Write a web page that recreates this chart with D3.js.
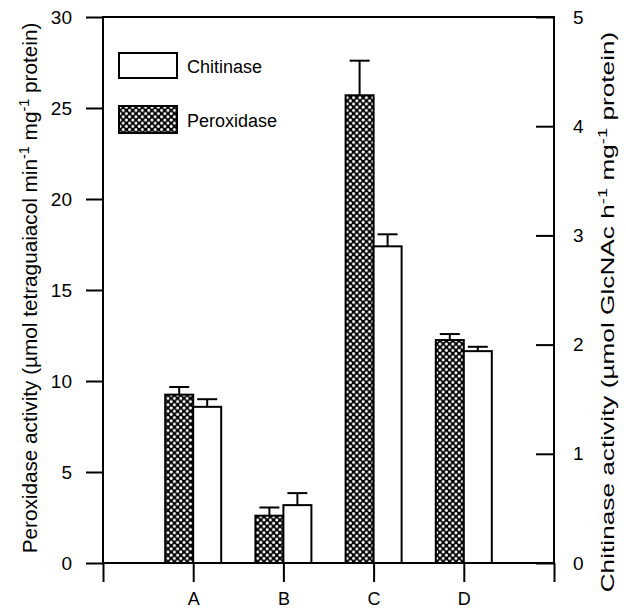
<!DOCTYPE html>
<html>
<head>
<meta charset="utf-8">
<script src="https://cdn.jsdelivr.net/npm/d3@7"></script>
<style>
  body { margin: 0; background: #fff; }
  svg text { font-family: "Liberation Sans", Arial, Helvetica, sans-serif; fill: #000; }
</style>
</head>
<body>
<svg id="chart" width="626" height="611"></svg>
<script>
// datos
var grupos = ["A", "B", "C", "D"];
var peroxidasa = [9.25, 2.6, 25.7, 12.25];      // eje izquierdo
var peroxidasaErr = [0.42, 0.45, 1.9, 0.33];
var quitinasa = [1.43, 0.53, 2.9, 1.94];         // eje derecho
var quitinasaErr = [0.07, 0.11, 0.11, 0.04];
var ticksIzq = [0, 5, 10, 15, 20, 25, 30];
var ticksDer = [0, 1, 2, 3, 4, 5];

var svg = d3.select("#chart");

var x0 = 103, x1 = 554, yTop = 17, yBase = 563;
var anchoBarra = 28;

var x = d3.scaleLinear().domain([0, 5]).range([x0, x1]);
var yIzq = d3.scaleLinear().domain([0, 30]).range([yBase, yTop]);
var yDer = d3.scaleLinear().domain([0, 5]).range([yBase, yTop]);

// patron de puntos blancos sobre negro
var defs = svg.append("defs");
var pat = defs.append("pattern")
  .attr("id", "puntos")
  .attr("patternUnits", "userSpaceOnUse")
  .attr("width", 6.4)
  .attr("height", 6.4);
pat.append("rect").attr("width", 6.4).attr("height", 6.4).attr("fill", "#000");
pat.append("circle").attr("cx", 1.6).attr("cy", 1.6).attr("r", 1.5).attr("fill", "#fff");
pat.append("circle").attr("cx", 4.8).attr("cy", 4.8).attr("r", 1.5).attr("fill", "#fff");

// Barras peroxidasa
svg.append("g").selectAll("rect")
  .data(peroxidasa)
  .enter()
  .append("rect")
  .attr("x", function(d, i) { return x(i + 1) - anchoBarra; })
  .attr("y", function(d) { return yIzq(d); })
  .attr("width", anchoBarra)
  .attr("height", function(d) { return yBase - yIzq(d); })
  .attr("fill", "url(#puntos)")
  .attr("stroke", "#000")
  .attr("stroke-width", 2);

// Barras quitinasa
svg.append("g").selectAll("rect")
  .data(quitinasa)
  .enter()
  .append("rect")
  .attr("x", function(d, i) { return x(i + 1); })
  .attr("y", function(d) { return yDer(d); })
  .attr("width", anchoBarra)
  .attr("height", function(d) { return yBase - yDer(d); })
  .attr("fill", "#fff")
  .attr("stroke", "#000")
  .attr("stroke-width", 2);

// barras de error
function errores(valores, errs, escala, desplaz) {
  var g = svg.append("g").attr("stroke", "#000").attr("stroke-width", 2);
  valores.forEach(function(v, i) {
    var cx = x(i + 1) + desplaz;
    var yv = escala(v), ye = escala(v + errs[i]);
    g.append("line").attr("x1", cx).attr("x2", cx).attr("y1", yv).attr("y2", ye);
    g.append("line").attr("x1", cx - 10).attr("x2", cx + 10).attr("y1", ye).attr("y2", ye);
  });
}
errores(peroxidasa, peroxidasaErr, yIzq, -anchoBarra / 2);
errores(quitinasa, quitinasaErr, yDer, anchoBarra / 2);

// Ejes
var ejeIzq = svg.append("g")
  .attr("transform", "translate(" + x0 + ",0)")
  .call(d3.axisLeft(yIzq).tickValues(ticksIzq).tickSize(17).tickPadding(14));

var ejeDer = svg.append("g")
  .attr("transform", "translate(" + x1 + ",0)")
  .call(d3.axisRight(yDer).tickValues(ticksDer).tickFormat(d3.format("d"))
    .tickSize(-18).tickPadding(19));

var ejeX = svg.append("g")
  .attr("transform", "translate(0," + yBase + ")")
  .call(d3.axisBottom(x).tickValues([0, 1, 2, 3, 4, 5])
    .tickFormat(function(d) { return grupos[d - 1] || ""; })
    .tickSize(19).tickPadding(10));

[ejeIzq, ejeDer, ejeX].forEach(function(e) {
  e.select(".domain").remove();
  e.selectAll("line").attr("stroke", "#000").attr("stroke-width", 2);
  e.selectAll("text").attr("font-size", 19).attr("font-family", "Liberation Sans, Arial, sans-serif");
});
ejeX.selectAll("text").attr("font-size", 18);

// marco
svg.append("rect")
  .attr("x", x0).attr("y", yTop)
  .attr("width", x1 - x0).attr("height", yBase - yTop)
  .attr("fill", "none").attr("stroke", "#000").attr("stroke-width", 2);

// Leyenda
var leyenda = svg.append("g");
leyenda.append("rect").attr("x", 119).attr("y", 53).attr("width", 58).attr("height", 25)
  .attr("fill", "#fff").attr("stroke", "#000").attr("stroke-width", 2);
leyenda.append("rect").attr("x", 119).attr("y", 106).attr("width", 58).attr("height", 27)
  .attr("fill", "url(#puntos)").attr("stroke", "#000").attr("stroke-width", 2);
leyenda.append("text").attr("x", 187).attr("y", 73).attr("font-size", 18).text("Chitinase");
leyenda.append("text").attr("x", 187).attr("y", 127).attr("font-size", 18).text("Peroxidase");

// titulos de ejes con superindices, estirados al largo de la figura
function titulo(px, py, tam, largo, partes) {
  var t = svg.append("text")
    .attr("text-anchor", "middle")
    .attr("font-size", tam);
  partes.forEach(function(p) {
    if (p.sup) {
      t.append("tspan").attr("font-size", tam * 0.7).attr("dy", -tam * 0.4).text(p.t);
    } else {
      t.append("tspan").attr("dy", p.baja ? tam * 0.4 : 0).text(p.t);
    }
  });
  var w = t.node().getBBox().width;
  t.attr("transform", "translate(" + px + "," + py + ") rotate(-90) scale(" + (largo / w) + ",1)");
}
titulo(37, 288, 20, 531, [
  { t: "Peroxidase activity (\u00b5mol tetraguaiacol min" },
  { t: "-1", sup: true },
  { t: " mg", baja: true },
  { t: "-1", sup: true },
  { t: "  protein)", baja: true }
]);
titulo(614, 312, 18, 561, [
  { t: "Chitinase activity (\u00b5mol GlcNAc h" },
  { t: "-1", sup: true },
  { t: " mg", baja: true },
  { t: "-1", sup: true },
  { t: "  protein)", baja: true }
]);
</script>
</body>
</html>
